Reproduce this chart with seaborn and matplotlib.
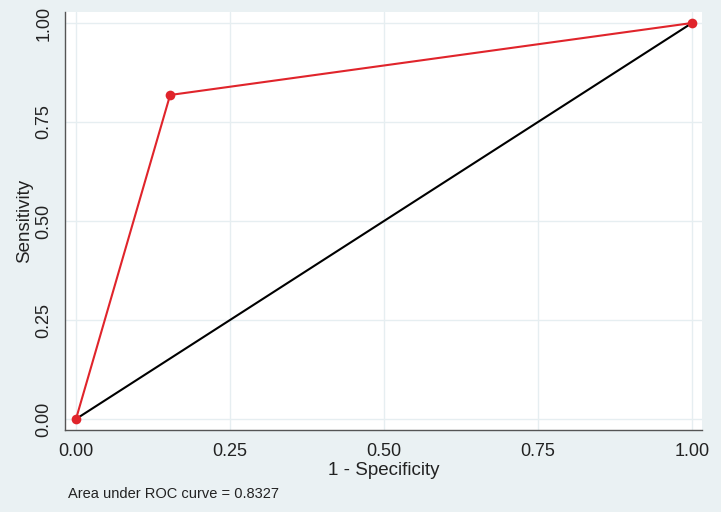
import matplotlib
matplotlib.use("Agg")
import matplotlib.pyplot as plt
import seaborn as sns
import pandas as pd

# Data
one_minus_spec = [0.0, 0.1528, 1.0]
sensitivity = [0.0, 0.8182, 1.0]
ref_x = [0.0, 1.0]
ref_y = [0.0, 1.0]
ticks = [0.0, 0.25, 0.5, 0.75, 1.0]
tick_labels = ["0.00", "0.25", "0.50", "0.75", "1.00"]
auc_text = "Area under ROC curve = 0.8327"

sns.set_style("white")
plt.rcParams['font.family'] = ['Liberation Sans', 'DejaVu Sans']

bg = "#EAF1F3"
fig = plt.figure(figsize=(7.21, 5.12), dpi=100, facecolor=bg)
W, H = 721, 512
ax = fig.add_axes([65 / W, 1 - 430 / H, (702 - 65) / W, (430 - 12) / H])
ax.set_facecolor("white")

roc = pd.DataFrame({"x": one_minus_spec, "y": sensitivity})
ref = pd.DataFrame({"x": ref_x, "y": ref_y})

sns.lineplot(data=ref, x="x", y="y", ax=ax, color="black", linewidth=1.5, sort=False, zorder=3)
sns.lineplot(data=roc, x="x", y="y", ax=ax, color="#E0242B", linewidth=1.5, sort=False,
             marker="o", markersize=7, markeredgewidth=0, zorder=4)

ax.set_xlim(-11 / 616, 1 + 10 / 616)
ax.set_ylim(-11 / 396, 1 + 11 / 396)
ax.set_xticks(ticks)
ax.set_xticklabels(tick_labels)
ax.set_yticks(ticks)
ax.set_yticklabels(tick_labels, rotation=90, va="center")

ax.grid(True, color="#E6EEF1", linewidth=1.0)
ax.set_axisbelow(True)
for s in ["top", "right"]:
    ax.spines[s].set_visible(False)
for s in ["left", "bottom"]:
    ax.spines[s].set_color("#555555")
    ax.spines[s].set_linewidth(1.0)

ax.tick_params(axis="both", direction="out", length=6, width=1, color="#555555",
               labelsize=13, labelcolor="#222222", pad=3)

ax.set_xlabel("1 - Specificity", fontsize=13.5, color="#222222", labelpad=2)
ax.set_ylabel("Sensitivity", fontsize=13.5, color="#222222", labelpad=2)

fig.text(68 / W, 1 - 494 / H, auc_text, fontsize=10.5, color="#222222", va="center", ha="left")

fig.savefig("out.png", dpi=100, facecolor=bg)
